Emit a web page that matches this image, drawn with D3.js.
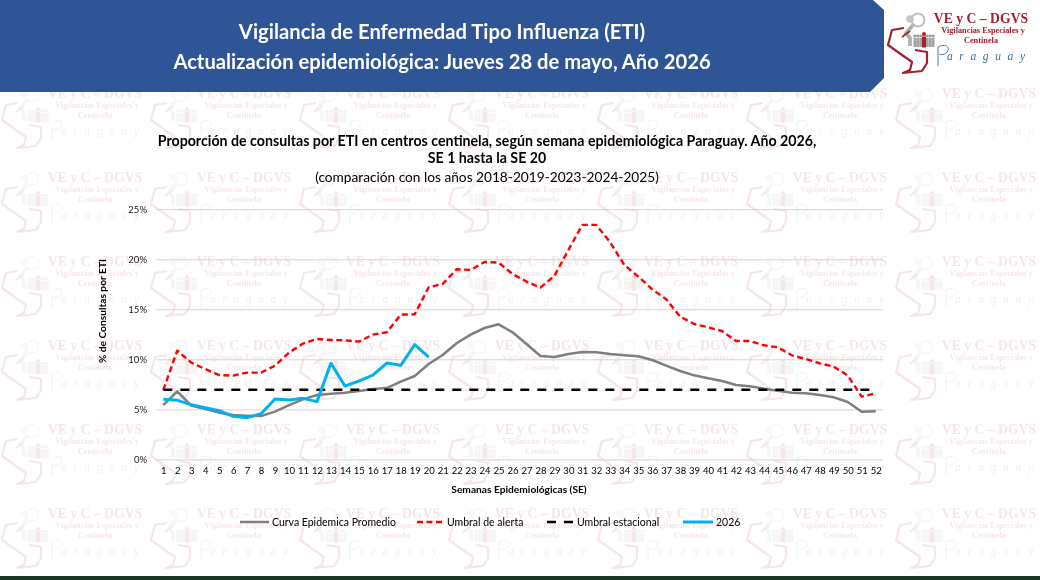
<!DOCTYPE html>
<html>
<head>
<meta charset="utf-8">
<script src="https://cdn.jsdelivr.net/npm/d3@7"></script>
<style>
  html, body { margin: 0; padding: 0; background: #fff; overflow: hidden; }
  text { font-family: Lato, "Open Sans", sans-serif; }
</style>
</head>
<body>
<div id="chart"></div>
<script>
// Chart data
const weeks = d3.range(1, 53);
const yTicks = [0, 5, 10, 15, 20, 25];
const promedio = [5.43, 6.8, 5.37, 5.03, 4.67, 4.43, 4.37, 4.33, 4.77, 5.43, 6.0, 6.43, 6.57, 6.67, 6.83, 7.03, 7.13, 7.77, 8.33, 9.53, 10.43, 11.6, 12.47, 13.13, 13.5, 12.7, 11.53, 10.33, 10.23, 10.53, 10.73, 10.7, 10.53, 10.4, 10.3, 9.93, 9.37, 8.83, 8.4, 8.1, 7.83, 7.43, 7.3, 7.07, 6.87, 6.67, 6.6, 6.43, 6.2, 5.73, 4.77, 4.8];
const alerta = [6.93, 10.87, 9.67, 9.03, 8.43, 8.37, 8.67, 8.67, 9.37, 10.67, 11.57, 12.03, 11.93, 11.9, 11.77, 12.47, 12.7, 14.47, 14.5, 17.2, 17.53, 19, 18.93, 19.73, 19.67, 18.53, 17.77, 17.17, 18.33, 20.93, 23.43, 23.43, 21.67, 19.43, 18.27, 17, 16, 14.27, 13.53, 13.2, 12.83, 11.83, 11.83, 11.4, 11.2, 10.4, 10.03, 9.6, 9.27, 8.37, 6.27, 6.6];
const estacional = weeks.map(() => 6.95);
const actual2026 = [6, 5.9, 5.47, 5.17, 4.87, 4.3, 4.17, 4.57, 6.03, 5.93, 6.1, 5.77, 9.6, 7.33, 7.83, 8.43, 9.63, 9.4, 11.47, 10.23];

const width = 1040, height = 580;
const serif = "'Liberation Serif', serif";
const svg = d3.select("#chart").append("svg")
    .attr("width", width)
    .attr("height", height)
    .style("display", "block");

// Emblem used for the watermark tiles and the logo in the corner
function drawEmblem(g, accent, ink) {
    g.append("path")
        .attr("d", "M19,23 L7,25 L3,40 L17,50 L27,57 L25,65 L18,68 L37,66 L42,58 L42,47 L30,45")
        .attr("fill", "none").attr("stroke", accent).attr("stroke-width", 2.2).attr("stroke-linejoin", "round");
    // figure with magnifier
    g.append("circle").attr("cx", 33).attr("cy", 15).attr("r", 6.5).attr("fill", "#fff").attr("stroke", "#b5b5b5").attr("stroke-width", 1.6);
    g.append("path").attr("d", "M28,20 L21,28 L25,33 L25,41").attr("fill", "none").attr("stroke", "#b0b0b0").attr("stroke-width", 3.8);
    g.append("circle").attr("cx", 25).attr("cy", 14).attr("r", 3.8).attr("fill", "#c4c4c4");
    g.append("path").attr("d", "M17,32 L25,26").attr("stroke", accent).attr("stroke-width", 1.6);
    // crowd
    [30, 33, 36, 42, 45, 48].forEach(x => {
        g.append("circle").attr("cx", x).attr("cy", 31).attr("r", 1.6).attr("fill", "#9a9a9a");
        g.append("rect").attr("x", x - 1.5).attr("y", 33).attr("width", 3).attr("height", 9).attr("fill", "#a5a5a5");
    });
    g.append("circle").attr("cx", 39).attr("cy", 29).attr("r", 2).attr("fill", accent);
    g.append("rect").attr("x", 37).attr("y", 31.5).attr("width", 4).attr("height", 11).attr("fill", accent);

    g.append("text").attr("x", 96).attr("y", 18)
        .attr("text-anchor", "middle").attr("font-size", 13.7).attr("font-weight", 700).attr("fill", accent)
        .style("font-family", serif).text("VE y C – DGVS");
    g.append("text").attr("x", 98).attr("y", 28)
        .attr("text-anchor", "middle").attr("font-size", 8.3).attr("font-weight", 700).attr("fill", accent)
        .style("font-family", serif).text("Vigilancias Especiales y");
    g.append("text").attr("x", 96).attr("y", 38)
        .attr("text-anchor", "middle").attr("font-size", 8.3).attr("font-weight", 700).attr("fill", accent)
        .style("font-family", serif).text("Centinela");
    g.append("path").attr("d", "M53,61 L53,42 C60,38 66,42 62,47 C60,50 56,50 54,49")
        .attr("fill", "none").attr("stroke", ink).attr("stroke-width", 0.9);
    g.append("text").attr("x", 62).attr("y", 55).attr("font-size", 11.5).attr("font-style", "italic")
        .attr("fill", ink).attr("textLength", 78).attr("lengthAdjust", "spacing")
        .style("font-family", serif).text("araguay");
}

// Watermark tiled over the whole page
const tiles = svg.append("g").attr("opacity", 0.11);
d3.range(0, 7).forEach(c => {
    d3.range(-1, 5).forEach(r => {
        const t = tiles.append("g").attr("transform", "translate(" + (-1 + 149 * c) + "," + (164 + 84 * r) + ")");
        drawEmblem(t, "#a5202f", "#777777");
    });
});

// Header
svg.append("polygon")
    .attr("points", "0,0 873,0 884,10 884,78 870,92 0,92")
    .attr("fill", "#2f5597");
svg.append("text").attr("x", 442).attr("y", 39).attr("text-anchor", "middle")
    .attr("font-size", 20.25).attr("font-weight", 700).attr("fill", "#fff")
    .text("Vigilancia de Enfermedad Tipo Influenza (ETI)");
svg.append("text").attr("x", 442).attr("y", 69).attr("text-anchor", "middle")
    .attr("font-size", 20.2).attr("font-weight", 700).attr("fill", "#fff")
    .text("Actualización epidemiológica: Jueves 28 de mayo, Año 2026");

// Logo
svg.append("rect").attr("x", 886).attr("y", 8).attr("width", 150).attr("height", 72).attr("fill", "#fff");
const logo = svg.append("g").attr("transform", "translate(885,5)");
drawEmblem(logo, "#a5202f", "#3f6f8c");

// Bottom strip
svg.append("rect").attr("x", 0).attr("y", 576).attr("width", width).attr("height", 4).attr("fill", "#1d3524");

// Chart titles
svg.append("text").attr("x", 487).attr("y", 146).attr("text-anchor", "middle")
    .attr("font-size", 14.2).attr("font-weight", 700).attr("fill", "#000")
    .text("Proporción de consultas por ETI en centros centinela, según semana epidemiológica Paraguay. Año 2026,");
svg.append("text").attr("x", 487).attr("y", 163).attr("text-anchor", "middle")
    .attr("font-size", 14.2).attr("font-weight", 700).attr("fill", "#000")
    .text("SE 1 hasta la SE 20");
svg.append("text").attr("x", 487).attr("y", 182).attr("text-anchor", "middle")
    .attr("font-size", 13.7).attr("fill", "#000")
    .text("(comparación con los años 2018-2019-2023-2024-2025)");

// Scales
const x = d3.scalePoint().domain(weeks).range([163.3, 875.7]);
const y = d3.scaleLinear().domain([0, 25]).range([459.4, 209.2]);

// Y axis with gridlines
const yAxis = svg.append("g")
    .attr("transform", "translate(156,0)")
    .call(d3.axisLeft(y).tickValues(yTicks).tickFormat(d => d + "%").tickSize(0).tickPadding(9));
yAxis.select(".domain").remove();
yAxis.selectAll("text").attr("font-size", 9.5).attr("fill", "#1a1a1a").style("font-family", "Lato, sans-serif");
yAxis.selectAll(".tick").append("line")
    .attr("x1", 0).attr("x2", 727).attr("stroke", "#d9d2d2").attr("stroke-width", 1);

// X axis
const xAxis = svg.append("g")
    .attr("transform", "translate(0,459.4)")
    .call(d3.axisBottom(x).tickSize(0).tickPadding(8));
xAxis.select(".domain").remove();
xAxis.selectAll("text").attr("font-size", 9.5).attr("fill", "#000").style("font-family", "Lato, sans-serif");

// Axis titles
svg.append("text").attr("x", 519).attr("y", 493).attr("text-anchor", "middle")
    .attr("font-size", 10.2).attr("font-weight", 700).attr("fill", "#000")
    .text("Semanas Epidemiológicas (SE)");
svg.append("text").attr("transform", "translate(106,311) rotate(-90)").attr("text-anchor", "middle")
    .attr("font-size", 10.2).attr("font-weight", 700).attr("fill", "#000")
    .text("% de Consultas por ETI");

// Series
const line = d3.line().x((d, i) => x(weeks[i])).y(d => y(d));
const series = [
    { name: "Curva Epidemica Promedio", values: promedio, color: "#7f7f7f", w: 2.5, dash: null, lx: 240, lw: 29 },
    { name: "Umbral de alerta", values: alerta, color: "#ff0000", w: 2.4, dash: "6,3.5", lx: 417, lw: 27 },
    { name: "Umbral estacional", values: estacional, color: "#000000", w: 2.5, dash: "9,8", lx: 547, lw: 27 },
    { name: "2026", values: actual2026, color: "#00b0f0", w: 3, dash: null, lx: 683, lw: 30 }
];
series.forEach(s => {
    svg.append("path")
        .attr("d", line(s.values))
        .attr("fill", "none")
        .attr("stroke", s.color)
        .attr("stroke-width", s.w)
        .attr("stroke-dasharray", s.dash)
        .attr("stroke-linejoin", "round");
});

// Legend
const legend = svg.append("g");
series.forEach(s => {
    legend.append("line")
        .attr("x1", s.lx).attr("x2", s.lx + s.lw).attr("y1", 522).attr("y2", 522)
        .attr("stroke", s.color).attr("stroke-width", s.w)
        .attr("stroke-dasharray", s.dash);
    legend.append("text")
        .attr("x", s.lx + s.lw + 3).attr("y", 526)
        .attr("font-size", 10.5).attr("fill", "#000")
        .text(s.name);
});
</script>
</body>
</html>
